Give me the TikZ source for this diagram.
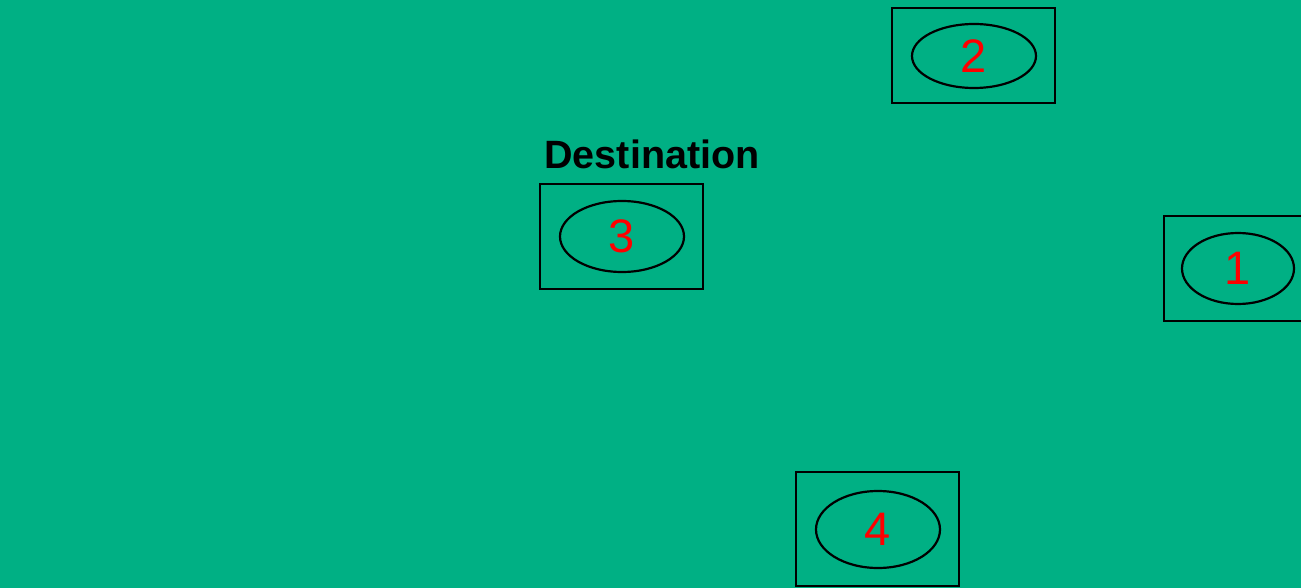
\documentclass[tikz,border=0pt]{standalone}
\usepackage{fontspec}
\setmainfont{Liberation Sans}
\usetikzlibrary{shapes.geometric}
\definecolor{bggreen}{HTML}{00B084}
\definecolor{numred}{HTML}{FF0000}

\begin{document}
\begin{tikzpicture}[x=1pt, y=-1pt,
  box/.style={draw=black, line width=2.6pt, rectangle, inner sep=0pt, minimum width=163pt},
  ell/.style={draw=black, line width=2.2pt, ellipse, inner sep=0pt, text=numred,
    font=\fontsize{47}{56}\selectfont}]

  % ════ 画面范围 ════
  \path[use as bounding box] (0,0) rectangle (1301,588);
  \clip (0,0) rectangle (1301,588);

  % ════ 背景 ════
  \fill[bggreen] (0,0) rectangle (1301,588);

  % ════ 方框 ════
  \node[box, minimum height=95pt]  (box2) at (973.5,55.5) {};
  \node[box, minimum height=105pt] (box3) at (621.5,236.5) {};
  \node[box, minimum height=105pt] (box1) at (1245.5,268.5) {};
  \node[box, minimum height=114pt] (box4) at (877.5,529) {};

  % ════ 椭圆 + 编号 ════
  \node[ell, minimum width=124pt, minimum height=64pt] (ell2) at (974,56) {2};
  \node[ell, minimum width=124pt, minimum height=71pt] (ell3) at (622,236.5) {3};
  \node[ell, minimum width=112pt, minimum height=71pt] (ell1) at (1238,268.5) {1};
  \node[ell, minimum width=124pt, minimum height=77pt] (ell4) at (878,529.5) {4};

  % ════ 标签 ════
  \node[anchor=center, inner sep=0pt, font=\fontsize{39.5}{47}\selectfont\bfseries] (dest) at (652,154) {Destination};
\end{tikzpicture}
\end{document}
